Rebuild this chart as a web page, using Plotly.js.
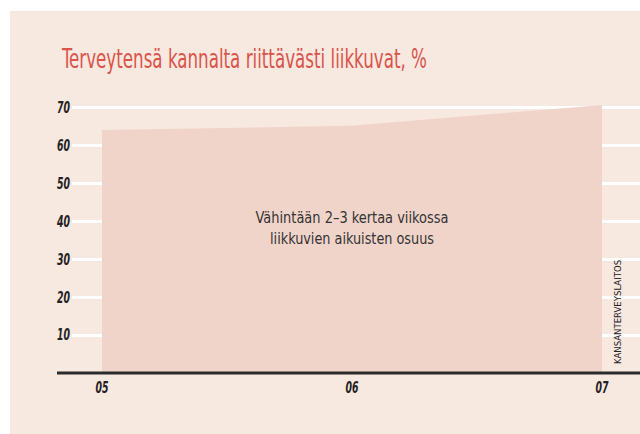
<!DOCTYPE html>
<html>
<head>
<meta charset="utf-8">
<script src="https://cdn.plot.ly/plotly-3.0.1.min.js"></script>
<style>
html,body{margin:0;padding:0;background:#ffffff;width:640px;height:434px;overflow:hidden;}
#chart{position:absolute;left:10px;top:11px;width:630px;height:423px;}
</style>
</head>
<body>
<div id="chart"></div>
<script>
// Data
var years = [5, 6, 7];
var yearLabels = ['05', '06', '07'];
var shares = [64.2, 65.3, 70.8];
var yTicks = [10, 20, 30, 40, 50, 60, 70];
var titleText = 'Terveytensä kannalta riittävästi liikkuvat, %';
var seriesLabel = 'Vähintään 2–3 kertaa viikossa<br>liikkuvien aikuisten osuus';
var sourceText = 'KANSANTERVEYSLAITOS';

var narrow = '"Liberation Sans Narrow", "Arial Narrow", "DejaVu Sans Condensed", sans-serif';

var trace = {
  x: years,
  y: shares,
  type: 'scatter',
  mode: 'none',
  fill: 'tozeroy',
  fillcolor: '#f1d4c9',
  hoverinfo: 'skip',
  showlegend: false
};

var layout = {
  width: 630,
  height: 423,
  paper_bgcolor: '#f7e8e0',
  plot_bgcolor: 'rgba(0,0,0,0)',
  margin: {l: 62, r: 0, t: 84, b: 61},
  title: {
    text: titleText,
    font: {family: narrow, size: 26, color: '#d9544a'},
    xref: 'container', yref: 'container',
    x: 0.0825, xanchor: 'left',
    y: 0.8865, yanchor: 'middle'
  },
  xaxis: {
    range: [4.88, 7.152],
    tickvals: years,
    ticktext: yearLabels,
    showgrid: false,
    zeroline: false,
    showline: false,
    ticks: '',
    ticklabelstandoff: 4,
    tickfont: {family: narrow, size: 15, color: '#222222', weight: 'bold', style: 'italic'}
  },
  yaxis: {
    range: [0, 73.43],
    tickvals: yTicks,
    showgrid: true,
    gridcolor: '#ffffff',
    gridwidth: 3,
    zeroline: false,
    showline: false,
    ticks: '',
    ticklabelstandoff: 1,
    tickfont: {family: narrow, size: 15, color: '#222222', weight: 'bold', style: 'italic'}
  },
  shapes: [{
    type: 'line',
    xref: 'paper', yref: 'paper',
    x0: -0.0264, x1: 1, y0: 0, y1: 0,
    line: {color: '#2b2b2b', width: 3}
  }],
  annotations: [{
    x: 6, y: 38.3, xref: 'x', yref: 'y',
    text: seriesLabel,
    showarrow: false,
    align: 'center',
    font: {family: narrow, size: 16, color: '#333333'}
  }, {
    x: 0.9595, y: 0.025, xref: 'paper', yref: 'paper',
    text: sourceText,
    textangle: -90,
    showarrow: false,
    xanchor: 'center', yanchor: 'bottom',
    font: {family: narrow, size: 9.5, color: '#222222'}
  }]
};

Plotly.newPlot('chart', [trace], layout, {displayModeBar: false, staticPlot: true}).then(function () {
  var t = document.querySelector('#chart .gtitle');
  if (t) {
    t.setAttribute('textLength', '365');
    t.setAttribute('lengthAdjust', 'spacingAndGlyphs');
  }
  document.querySelectorAll('#chart .xtick text, #chart .ytick text').forEach(function (el) {
    el.setAttribute('textLength', '13');
    el.setAttribute('lengthAdjust', 'spacingAndGlyphs');
  });
  var lineWidths = [193, 164];
  var ann = document.querySelectorAll('#chart .annotation-text')[0];
  if (ann) {
    var lines = ann.querySelectorAll('tspan.line');
    lines.forEach(function (el, i) {
      if (lineWidths[i]) {
        el.setAttribute('textLength', String(lineWidths[i]));
        el.setAttribute('lengthAdjust', 'spacingAndGlyphs');
      }
    });
  }
});
</script>
</body>
</html>
